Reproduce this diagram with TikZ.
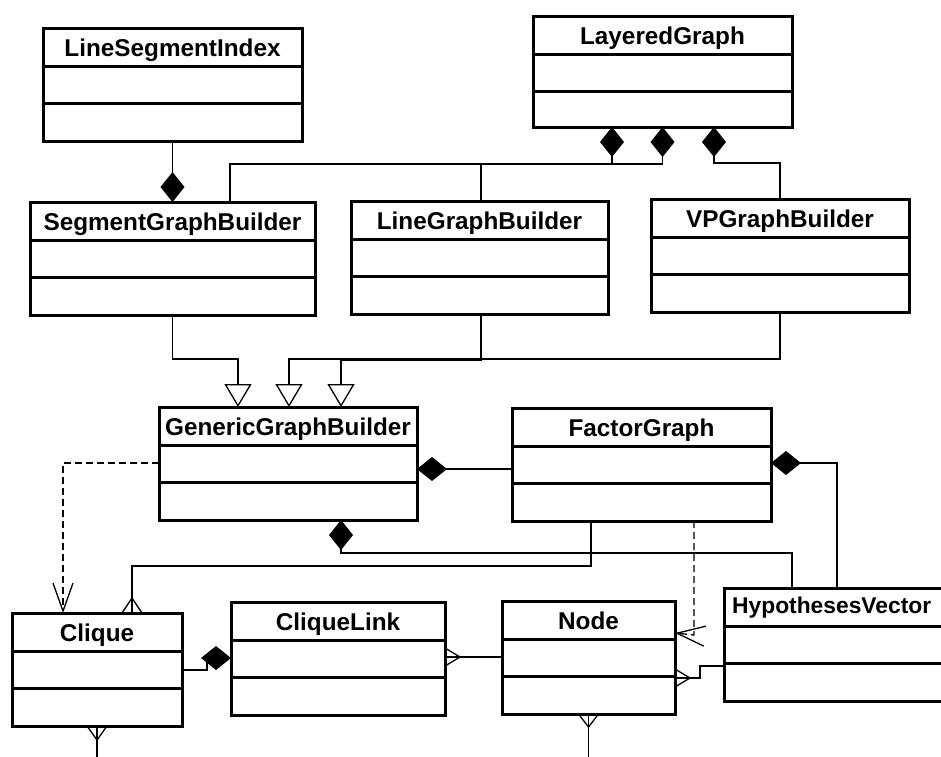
\documentclass[tikz,border=0pt]{standalone}
\usepackage{fontspec}
\setmainfont{Liberation Sans}
\usetikzlibrary{arrows.meta,positioning,calc}
\begin{document}
\begin{tikzpicture}[x=1pt, y=-1pt,
  cls/.style={draw, line width=3pt, anchor=north west, inner sep=0pt, outer sep=0pt, minimum height=113pt},
  title/.style={anchor=base, inner sep=0pt, font=\bfseries\fontsize{24.3}{28}\selectfont},
  conn/.style={line width=1.3pt},
  comp/.style={conn, -{Diamond[length=30pt, width=24pt, fill=black]}},
  gen/.style={conn, -{Triangle[length=23pt, width=27pt, fill=white]}},
  dep/.style={conn, dash pattern=on 7pt off 4pt, -{Straight Barb[length=28pt, width=20pt]}}]
\useasboundingbox (0,0) rectangle (941,756);
\clip (0,0) rectangle (941,756);

% classes
\node[cls, minimum width=259pt] (lsi) at (43,28) {};
\node[cls, minimum width=259pt, minimum height=111pt] (lg) at (533,16) {};
\node[cls, minimum width=285pt] (sgb) at (30,202) {};
\node[cls, minimum width=257pt] (lgb) at (351,201) {};
\node[cls, minimum width=258pt] (vpgb) at (651,199) {};
\node[cls, minimum width=258pt] (ggb) at (159,407) {};
\node[cls, minimum width=259pt] (fg) at (512,408) {};
\node[cls, minimum width=170pt] (clq) at (12,613) {};
\node[cls, minimum width=214pt] (cl) at (231,602) {};
\node[cls, minimum width=173pt] (nd) at (502,601) {};
\node[cls, minimum width=300pt] (hv) at (724,588) {};

\foreach \n/\t in {lsi/LineSegmentIndex, lg/LayeredGraph, sgb/SegmentGraphBuilder, lgb/LineGraphBuilder,
  vpgb/VPGraphBuilder, ggb/GenericGraphBuilder, fg/FactorGraph, clq/Clique, cl/CliqueLink, nd/Node}
  \node[title] (\n-t) at ($(\n.north)+(0,28)$) {\t};
\node[title, anchor=base west, font=\bfseries\fontsize{22.8}{28}\selectfont] (hv-t) at ($(hv.north west)+(8,25)$) {HypothesesVector};

\foreach \n in {lsi,lg,sgb,lgb,vpgb,ggb,fg,clq,cl,nd,hv} {
  \draw[line width=3pt] ($(\n.north west)+(0,38)$) -- ($(\n.north east)+(0,38)$);
  \draw[line width=3pt] ($(\n.north west)+(0,75)$) -- ($(\n.north east)+(0,75)$);
}

% composition
\draw[comp] (lsi.south) -- (lsi.south |- sgb.north);
\draw[comp] ($(sgb.north)+(57.5,0)$) -- ++(0,-38) -| (lg.south);
\draw[comp] ($(lgb.north)+(1.5,0)$) -- ++(0,-37) -| ($(lg.south)+(-50.5,0)$);
\draw[comp] (vpgb.north) -- ++(0,-36) -| ($(lg.south)+(51.5,0)$);
\draw[comp] ($(fg.north west)+(0,61)$) -- ($(ggb.north east)+(0,62)$);
\draw[comp] ($(hv.north west)+(68,0)$) |- ($(ggb.south)+(53,33)$) -- ($(ggb.south)+(53,0)$);
\draw[comp] ($(hv.north west)+(113,0)$) |- ($(fg.north east)+(0,55)$);
\draw[comp] ($(clq.north east)+(0,57)$) -| ($(cl.north west)+(-24,56)$) -- ($(cl.north west)+(0,56)$);

% generalization
\draw[gen] (sgb.south) -- ++(0,44) -| ($(ggb.north)+(-50,0)$);
\draw[gen] ($(lgb.south)+(1.5,0)$) -- ++(0,46) -| ($(ggb.north)+(53,0)$);
\draw[gen] (vpgb.south) -- ++(0,47) -| ($(ggb.north)+(1,0)$);

% dependency
\draw[dep] ($(ggb.north west)+(0,56)$) -| ($(clq.north)+(-34,0)$);
\draw[dep] ($(fg.south)+(52.5,0)$) -- ++(0,114) -- ($(nd.north east)+(0,32)$);

% associations (many)
\draw[conn] ($(fg.south)+(-50.5,0)$) |- ($(clq.north)+(35,-47)$) -- ($(clq.north)+(35,0)$);
\draw[conn] ($(clq.north)+(25,0)$) -- ++(10,-15) -- ++(10,15);
\draw[conn] ($(cl.north east)+(0,55)$) -- ($(nd.north west)+(0,56)$);
\draw[conn] ($(cl.north east)+(0,46)$) -- ++(15,9) -- ++(-15,9);
\draw[conn] ($(nd.north east)+(0,77)$) -- ++(25,0) |- ($(hv.north west)+(0,78)$);
\draw[conn] ($(nd.north east)+(0,68)$) -- ++(15,9) -- ++(-15,9);
\coordinate (clqend) at ($(clq.south)+(0,40)$);
\coordinate (ndend) at ($(nd.south)+(0,50)$);
\draw[conn] (clq.south) -- (clqend);
\draw[conn] ($(clq.south)+(-10,0)$) -- ++(10,14) -- ++(10,-14);
\draw[conn] (nd.south) -- (ndend);
\draw[conn] ($(nd.south)+(-10,0)$) -- ++(10,13) -- ++(10,-13);
\end{tikzpicture}
\end{document}
